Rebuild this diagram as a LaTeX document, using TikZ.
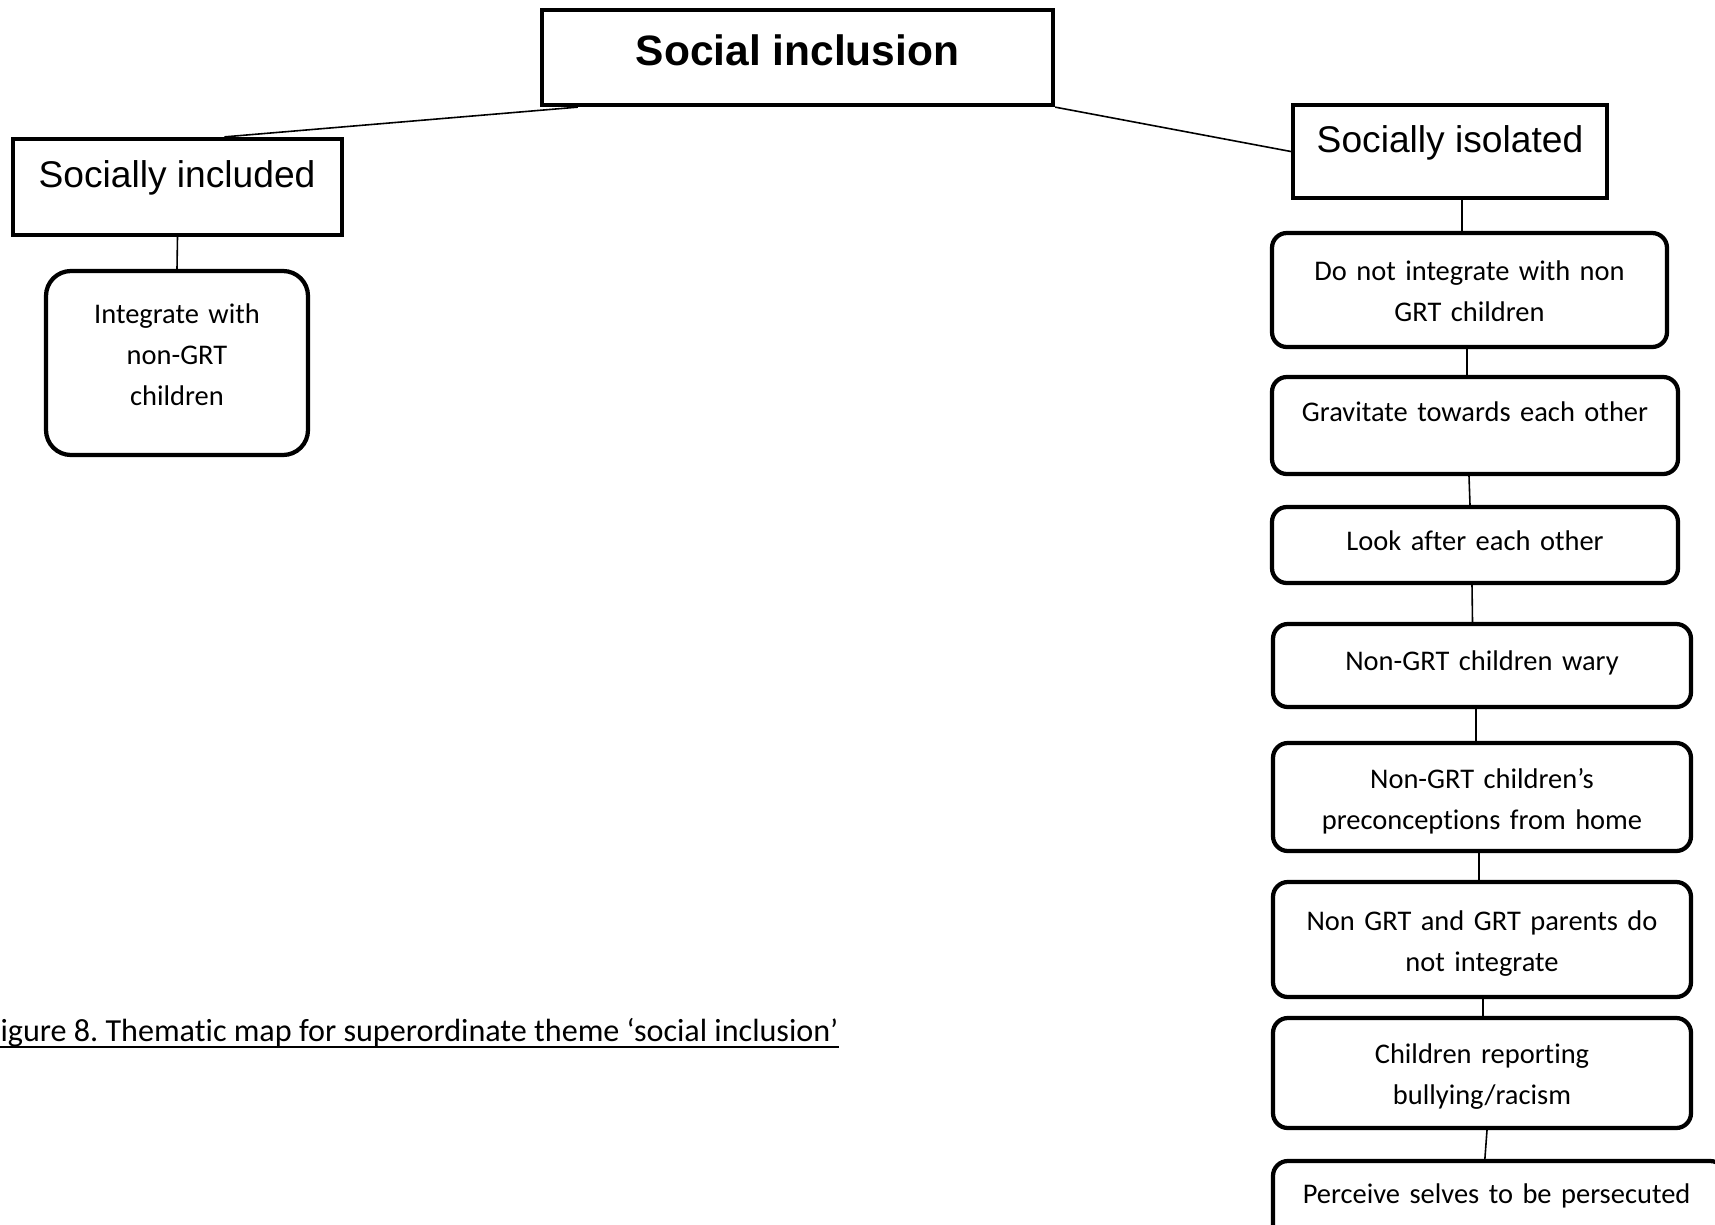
\documentclass[tikz,border=0pt]{standalone}
\usepackage{fontspec}
\setmainfont{Carlito}[Ligatures={TeX,NoCommon}]
\newfontfamily\headfont{Liberation Sans}
\usetikzlibrary{fit,calc}
\frenchspacing
\begin{document}
\begin{tikzpicture}[x=0.3766pt,y=-0.3766pt,
  sqbox/.style={draw, line width=1.6pt, inner sep=0pt},
  rbox/.style={draw, line width=1.6pt, inner sep=0pt, rounded corners=5.6pt},
  bigrbox/.style={rbox, rounded corners=9.4pt},
  conn/.style={line width=0.6pt},
  boxtext/.style={font=\fontsize{10.72}{15.45}\selectfont, inner sep=0pt, text width=160pt,
    execute at begin node={\centering}},
  headtext/.style={font=\headfont\fontsize{14}{16.8}\selectfont, inner sep=0pt},
  titletext/.style={font=\headfont\bfseries\fontsize{16}{19.2}\selectfont, inner sep=0pt},
  captext/.style={font=\fontsize{12.1}{14.5}\selectfont, inner sep=0pt}
]
\useasboundingbox (0,0) rectangle (1715,1224);
\fill[white] (0,0) rectangle (1715,1224);
\clip (0,0) rectangle (1715,1224);

% header boxes
\node[sqbox, fit={(542,10) (1053,105)}] (top) {};
\node[titletext, anchor=base] (ttop) at (797.5,65) {Social inclusion};
\node[sqbox, fit={(13,139) (342,235)}] (incl) {};
\node[headtext, anchor=base] (tincl) at (177,187) {Socially included};
\node[sqbox, fit={(1293,105) (1607,198)}] (isol) {};
\node[headtext, anchor=base] (tisol) at (1450,152) {Socially isolated};

% left branch
\node[bigrbox, fit={(46,271) (308,455)}] (integ) {};
\node[boxtext, text width=90pt, anchor=base] (tinteg) at (177,323) {Integrate with\\non-GRT\\children};

% right branch
\node[rbox, fit={(1272,233) (1667,347)}] (b1) {};
\node[boxtext, anchor=base] (tb1) at (1469.5,280) {Do not integrate with non\\GRT children};
\node[rbox, fit={(1272,377) (1678,474)}] (b2) {};
\node[boxtext, anchor=base] (tb2) at (1475,421) {Gravitate towards each other};
\node[rbox, fit={(1272,507) (1678,583)}] (b3) {};
\node[boxtext, anchor=base] (tb3) at (1475,550) {Look after each other};
\node[rbox, fit={(1273,624) (1691,707)}] (b4) {};
\node[boxtext, anchor=base] (tb4) at (1482,670) {Non-GRT children wary};
\node[rbox, fit={(1273,743) (1691,851)}] (b5) {};
\begin{scope}
  \clip (1273,743) rectangle (1691,833);
  \node[boxtext, anchor=base] (tb5) at (1482,788) {Non-GRT children’s\\preconceptions from home};
\end{scope}
\node[rbox, fit={(1273,882) (1691,997)}] (b6) {};
\node[boxtext, anchor=base] (tb6) at (1482,930) {Non GRT and GRT parents do\\not integrate};
\node[rbox, fit={(1273,1018) (1691,1128)}] (b7) {};
\node[boxtext, anchor=base] (tb7) at (1482,1063) {Children reporting\\bullying/racism};
\node[rbox, fit={(1273,1161) (1725,1245)}] (b8) {};
\node[boxtext, anchor=base] (tb8) at (1496.5,1203) {Perceive selves to be persecuted};

% connectors
\draw[conn] ($(top.south west)+(38,0)$) -- ($(incl.north)+(47,0)$);
\draw[conn] (top.south east) -- (isol.west);
\draw[conn] (incl.south) -- (integ.north);
\draw[conn] ($(isol.south)+(12,0)$) -- ($(b1.north)+(-7.5,0)$);
\draw[conn] ($(b1.south)+(-2.5,0)$) -- ($(b2.north)+(-8,0)$);
\draw[conn] ($(b2.south)+(-6,0)$) -- ($(b3.north)+(-5,0)$);
\draw[conn] ($(b3.south)+(-3,0)$) -- ($(b4.north)+(-9.5,0)$);
\draw[conn] ($(b4.south)+(-6,0)$) -- ($(b5.north)+(-6,0)$);
\draw[conn] ($(b5.south)+(-3,0)$) -- ($(b6.north)+(-3,0)$);
\draw[conn] ($(b6.south)+(1,0)$) -- ($(b7.north)+(1,0)$);
\draw[conn] ($(b7.south)+(5,0)$) -- ($(b8.north west)+(214,0)$);

% caption
\node[captext, anchor=base west] (cap) at (0,1041) {igure 8. Thematic map for superordinate theme ‘social inclusion’};
\draw[line width=0.75pt] ($(cap.base west)+(0,6)$) -- ($(cap.base east)+(0,6)$);
\end{tikzpicture}
\end{document}
